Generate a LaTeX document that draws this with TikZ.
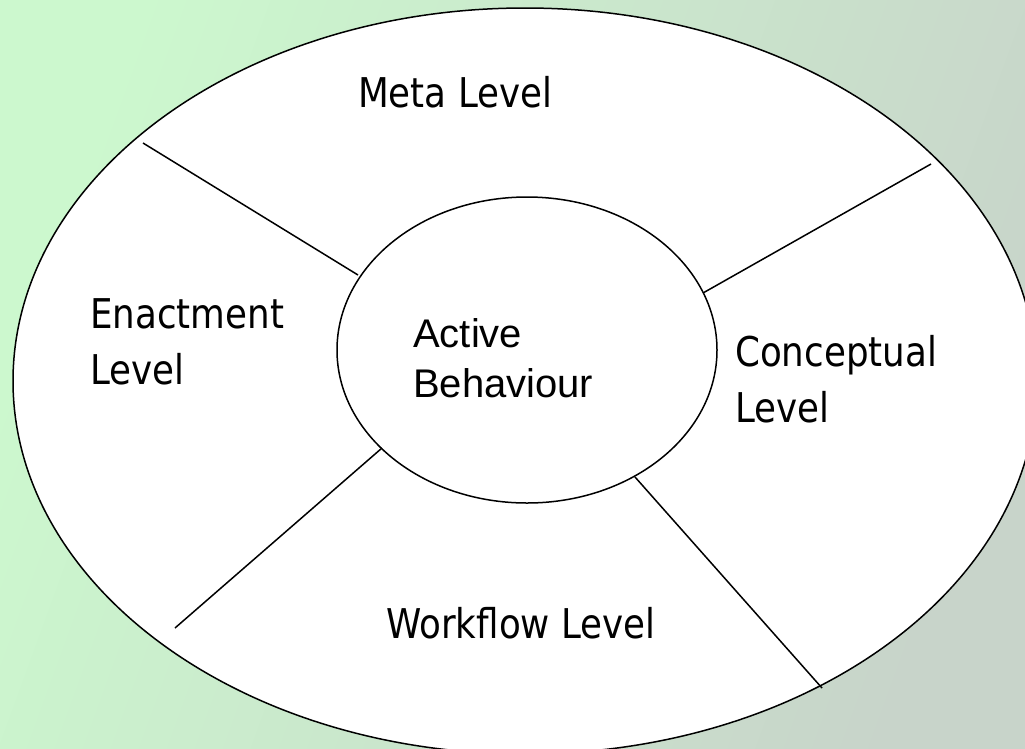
\documentclass[tikz,border=0pt]{standalone}
\usepackage{fontspec}
\setmainfont{Liberation Sans}
\newfontfamily\tahoma[FakeStretch=0.87]{DejaVu Sans}
\definecolor{bgL}{RGB}{204,248,206}
\definecolor{bgR}{RGB}{200,212,202}
\tikzset{
  lvl/.style={font=\tahoma\fontsize{41}{56}\selectfont, inner sep=0pt, align=left, text=black},
  core/.style={font=\fontsize{40}{50}\selectfont, inner sep=0pt, align=left, text=black},
  ring/.style={draw=black, line width=1.5pt, fill=white},
  spoke/.style={draw=black, line width=1.5pt}
}
\begin{document}
\begin{tikzpicture}[x=1pt,y=-1pt]
\useasboundingbox (0,0) rectangle (1025,748);
\clip (0,0) rectangle (1025,748);
\shade[left color=bgL, right color=bgR, shading angle=70] (0,0) rectangle (1025,748);
% outer and inner ellipses
\path[ring] (525,381) ellipse [x radius=512, y radius=373];
\path[ring] (527,350) ellipse [x radius=190, y radius=153];
% spoke end points
\coordinate (a1) at (143,143);
\coordinate (a2) at (358,275);
\coordinate (b1) at (703,293);
\coordinate (b2) at (931,164);
\coordinate (c1) at (382,448);
\coordinate (c2) at (175,628);
\coordinate (d1) at (635,477);
\coordinate (d2) at (822,688);
\draw[spoke] (a1) -- (a2);
\draw[spoke] (b1) -- (b2);
\draw[spoke] (c1) -- (c2);
\draw[spoke] (d1) -- (d2);
% labels (base anchor of a two-line node = last line's baseline)
\node[lvl, anchor=base west] (meta) at (358,107) {Meta Level};
\node[lvl, anchor=base west] (enact) at (90,384) {Enactment\\Level};
\node[lvl, anchor=base west] (concept) at (735,422) {Conceptual\\Level};
\node[lvl, anchor=base west] (work) at (386,638) {Workflow Level};
\node[core, anchor=base west] (active) at (413,397) {Active\\Behaviour};
\end{tikzpicture}
\end{document}
